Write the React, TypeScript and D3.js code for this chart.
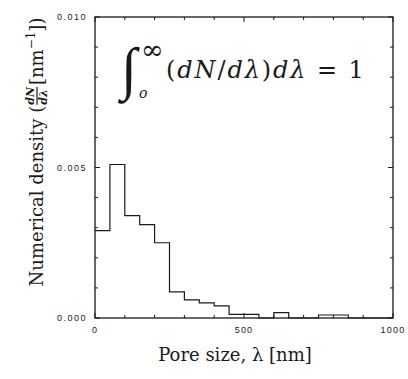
import { useEffect, useRef } from 'react';
import * as d3 from 'd3';

// histogram bins (left edges, nm) and density values (nm^-1)
const binStarts = [0, 50, 100, 150, 200, 250, 300, 350, 400, 450, 500, 550, 600, 650, 700, 750, 800, 850, 900, 950];
const density = [0.0029, 0.0051, 0.0034, 0.0031, 0.0025, 0.00087, 0.0006, 0.0005, 0.0004, 0.00012, 0.00012, 0, 0.00018, 0, 0, 0.0001, 0.0001, 0, 0, 0];
const binWidth = 50;
const yTickLabels = ['0.000', '0.005', '0.010'];
const xTickLabels = ['0', '500', '1000'];

export default function App() {
  const ref = useRef<SVGSVGElement>(null);

  useEffect(() => {
    if (!ref.current) return;
    const svg = d3.select(ref.current);
    svg.selectAll('*').remove();

    const left = 95, right = 393, top = 17, bottom = 318;
    const x = d3.scaleLinear().domain([0, 1000]).range([left, right]);
    const y = d3.scaleLinear().domain([0, 0.010]).range([bottom, top]);
    const ink = '#1a1a1a';
    const serif = 'DejaVu Serif, serif';

    // frame
    svg.append('rect')
      .attr('x', left).attr('y', top)
      .attr('width', right - left).attr('height', bottom - top)
      .attr('fill', 'none').attr('stroke', ink).attr('stroke-width', 1.3);

    // y ticks, both sides, inward
    d3.range(0, 11).forEach(i => {
      const v = i * 0.001;
      const len = i % 5 === 0 ? 5 : 3;
      svg.append('line').attr('x1', left).attr('x2', left + len)
        .attr('y1', y(v)).attr('y2', y(v)).attr('stroke', ink).attr('stroke-width', 1);
      svg.append('line').attr('x1', right).attr('x2', right - len)
        .attr('y1', y(v)).attr('y2', y(v)).attr('stroke', ink).attr('stroke-width', 1);
    });
    // x ticks, top and bottom
    d3.range(0, 11).forEach(i => {
      const v = i * 100;
      const len = i % 5 === 0 ? 5 : 3;
      svg.append('line').attr('x1', x(v)).attr('x2', x(v))
        .attr('y1', bottom).attr('y2', bottom - len).attr('stroke', ink).attr('stroke-width', 1);
      svg.append('line').attr('x1', x(v)).attr('x2', x(v))
        .attr('y1', top).attr('y2', top + len).attr('stroke', ink).attr('stroke-width', 1);
    });

    // tick labels
    yTickLabels.forEach(t => {
      svg.append('text').attr('x', 87).attr('y', y(+t) + 3)
        .attr('text-anchor', 'end')
        .style('font-family', 'Liberation Sans, sans-serif')
        .style('font-size', '9px').style('letter-spacing', '1.5px')
        .attr('fill', ink).text(t);
    });
    xTickLabels.forEach(t => {
      svg.append('text').attr('x', x(+t)).attr('y', 333)
        .attr('text-anchor', 'middle')
        .style('font-family', 'Liberation Sans, sans-serif')
        .style('font-size', '9px').style('letter-spacing', '1.2px')
        .attr('fill', ink).text(t);
    });

    // histogram outline
    const pts: [number, number][] = binStarts.map((b, i) => [b, density[i]]);
    pts.push([binStarts[binStarts.length - 1] + binWidth, 0]);
    const line = d3.line<[number, number]>()
      .x(d => x(d[0])).y(d => y(d[1]))
      .curve(d3.curveStepAfter);
    svg.append('path').attr('d', line(pts))
      .attr('fill', 'none').attr('stroke', ink).attr('stroke-width', 1.2);

    // x label
    svg.append('text').attr('x', 235).attr('y', 361)
      .attr('text-anchor', 'middle')
      .style('font-family', serif).style('font-size', '18px')
      .attr('fill', ink)
      .text('Pore size, λ [nm]');

    // y label (rotated), laid out piece by piece then centred
    const g = svg.append('g');
    const t1 = g.append('text').attr('x', 0).attr('y', 0)
      .style('font-family', serif).style('font-size', '18px').attr('fill', ink)
      .text('Numerical density (');
    const w1 = (t1.node() as SVGTextElement).getComputedTextLength();
    const fx = w1 + 1;
    const num = g.append('text').attr('x', fx).attr('y', -9)
      .style('font-family', serif).style('font-size', '11px')
      .style('font-weight', 'bold').style('font-style', 'italic').attr('fill', ink)
      .text('dN');
    const den = g.append('text').attr('x', fx).attr('y', 4)
      .style('font-family', serif).style('font-size', '11px')
      .style('font-weight', 'bold').style('font-style', 'italic').attr('fill', ink)
      .text('dλ');
    const fw = Math.max((num.node() as SVGTextElement).getComputedTextLength(),
      (den.node() as SVGTextElement).getComputedTextLength());
    g.append('line').attr('x1', fx).attr('x2', fx + fw)
      .attr('y1', -6).attr('y2', -6).attr('stroke', ink).attr('stroke-width', 1.2);
    const t3 = g.append('text').attr('x', fx + fw + 2).attr('y', 0)
      .style('font-family', serif).style('font-size', '18px').attr('fill', ink);
    t3.append('tspan').text(' [nm');
    t3.append('tspan').attr('dy', -8).style('font-size', '12px').text('−1');
    t3.append('tspan').attr('dy', 8).text('])');
    const total = fx + fw + 2 + (t3.node() as SVGTextElement).getComputedTextLength();
    g.attr('transform', `translate(43,${152 + total / 2}) rotate(-90)`);

    // formula
    svg.append('text').attr('x', 121).attr('y', 88)
      .style('font-family', 'Liberation Serif, serif').style('font-size', '58px')
      .style('font-style', 'italic').attr('fill', ink)
      .text('∫');
    svg.append('text').attr('x', 141).attr('y', 59)
      .style('font-family', serif).style('font-size', '27px').attr('fill', ink)
      .text('∞');
    svg.append('text').attr('x', 139).attr('y', 98)
      .style('font-family', serif).style('font-size', '14px')
      .style('font-style', 'italic').attr('fill', ink)
      .text('o');
    const f = svg.append('text').attr('x', 166).attr('y', 78)
      .style('font-family', serif).style('font-size', '24px')
      .style('letter-spacing', '1.9px').attr('fill', ink);
    f.append('tspan').text('(');
    f.append('tspan').style('font-style', 'italic').text('dN');
    f.append('tspan').text('/');
    f.append('tspan').style('font-style', 'italic').text('dλ');
    f.append('tspan').text(')');
    f.append('tspan').style('font-style', 'italic').text('dλ');
    f.append('tspan').text(' = 1');
  }, []);

  return (
    <svg ref={ref} width={408} height={379}
      style={{ position: 'absolute', left: 0, top: 0, background: '#fff' }} />
  );
}
